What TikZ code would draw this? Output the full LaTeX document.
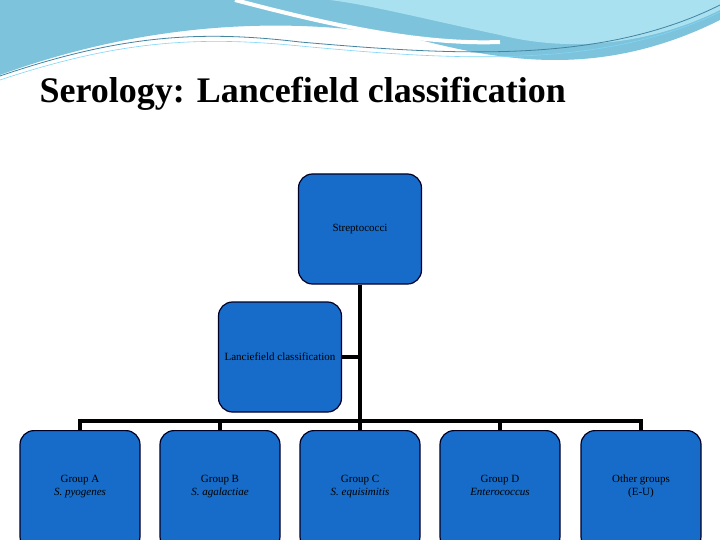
\documentclass[tikz,border=0pt]{standalone}
\usepackage{fontspec}
\setmainfont{Liberation Serif}
\definecolor{boxblue}{RGB}{22,108,200}
\definecolor{hdr}{RGB}{125,195,220}
\definecolor{hdrl}{RGB}{170,225,240}
\begin{document}
\begin{tikzpicture}[x=1pt,y=-1pt,
 box/.style={draw=black!85!blue,line width=1.2pt,fill=boxblue,rounded corners=14pt,font=\fontsize{11}{13}\selectfont,align=center,inner sep=0pt},
 conn/.style={line width=4.5pt,black}]
\useasboundingbox (0,0) rectangle (720,540);
\fill[white] (0,0) rectangle (720,540);
% header waves
\fill[hdr] (0,0) -- (720,0) -- (720,20) .. controls (600,80) and (500,60) .. (420,40) .. controls (300,15) and (150,20) .. (0,75) -- cycle;
\fill[hdrl] (330,0) -- (720,0) -- (720,10) .. controls (660,40) and (580,55) .. (500,35) .. controls (420,18) and (370,5) .. (330,0) -- cycle;
\draw[white,line width=4pt] (235,0) .. controls (330,25) and (420,45) .. (500,42);
\draw[cyan!60!black,line width=0.8pt] (0,76) .. controls (120,35) and (200,30) .. (300,42) .. controls (450,55) and (600,65) .. (720,5);
\draw[cyan!50,line width=0.6pt] (0,80) .. controls (120,40) and (200,36) .. (300,46) .. controls (450,60) and (600,70) .. (720,12);
\node[anchor=base west,font=\fontsize{36}{40}\bfseries\selectfont] (title) at (36,103) {Serology: Lancefield classification};
\node[box,minimum width=123pt,minimum height=110pt] (s) at (360,229) {Streptococci};
\node[box,minimum width=123pt,minimum height=110pt] (l) at (280,357) {Lanciefield classification};
\coordinate (bar) at (360,421);
\coordinate (lj) at (360,357);
\foreach \n/\x/\t in {a/80/{Group A\\\textit{S. pyogenes}},b/220/{Group B\\\textit{S. agalactiae}},c/360/{Group C\\\textit{S. equisimitis}},d/500/{Group D\\\textit{Enterococcus}},e/641/{Other groups\\(E-U)}}{
 \node[box,minimum width=120pt,minimum height=120pt,anchor=north] (\n) at (\x,430) {\t\\[-2pt]};
}
\draw[conn] (s.south) -- (bar);
\draw[conn] (l.east) -- (lj);
\draw[conn] (a.north) |- (bar) -| (e.north);
\foreach \n in {b,c,d} \draw[conn] (\n.north) -- (\n.north |- bar);
\end{tikzpicture}
\end{document}
